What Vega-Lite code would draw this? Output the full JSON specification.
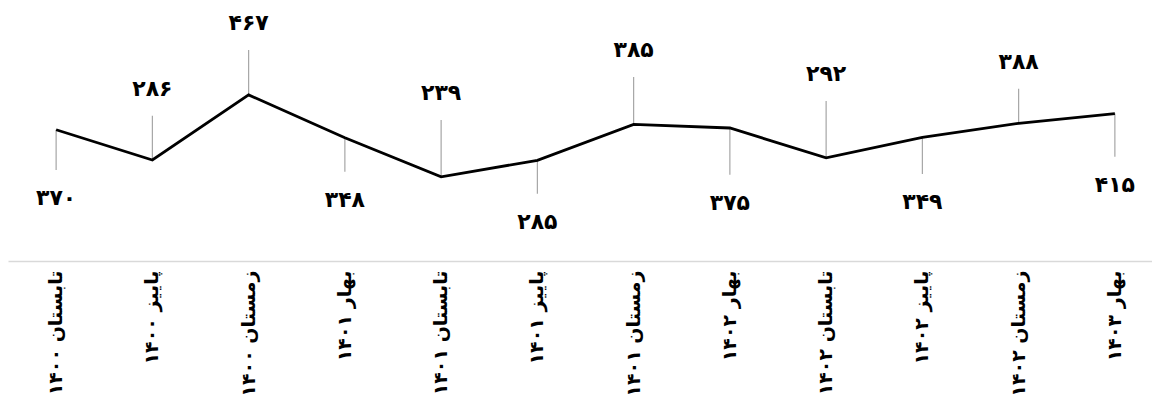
{
  "$schema": "https://vega.github.io/schema/vega-lite/v6.json",
  "width": 1155,
  "height": 261,
  "autosize": {"type": "none"},
  "padding": {"left": 8, "top": 0, "right": 0, "bottom": 137},
  "background": "#ffffff",
  "config": {"view": {"stroke": null}, "font": "DejaVu Sans"},
  "data": {
    "values": [
      {"period": "تابستان ۱۴۰۰", "value": 370, "ann": 258, "label": "۳۷۰"},
      {"period": "پاییز ۱۴۰۰", "value": 286, "ann": 409, "label": "۲۸۶"},
      {"period": "زمستان ۱۴۰۰", "value": 467, "ann": 592, "label": "۴۶۷"},
      {"period": "بهار ۱۴۰۱", "value": 348, "ann": 253, "label": "۳۴۸"},
      {"period": "تابستان ۱۴۰۱", "value": 239, "ann": 397, "label": "۲۳۹"},
      {"period": "پاییز ۱۴۰۱", "value": 285, "ann": 192, "label": "۲۸۵"},
      {"period": "زمستان ۱۴۰۱", "value": 385, "ann": 517, "label": "۳۸۵"},
      {"period": "بهار ۱۴۰۲", "value": 375, "ann": 245, "label": "۳۷۵"},
      {"period": "تابستان ۱۴۰۲", "value": 292, "ann": 450, "label": "۲۹۲"},
      {"period": "پاییز ۱۴۰۲", "value": 349, "ann": 247, "label": "۳۴۹"},
      {"period": "زمستان ۱۴۰۲", "value": 388, "ann": 484, "label": "۳۸۸"},
      {"period": "بهار ۱۴۰۳", "value": 415, "ann": 295, "label": "۴۱۵"}
    ]
  },
  "encoding": {
    "x": {
      "field": "period",
      "type": "ordinal",
      "sort": null,
      "scale": {"type": "band", "paddingInner": 0, "paddingOuter": 0},
      "axis": {
        "title": null,
        "labelAngle": -90,
        "ticks": false,
        "domainColor": "#d9d9d9",
        "domainWidth": 1.5,
        "labelFont": "DejaVu Sans",
        "labelFontSize": 19,
        "labelFontWeight": "bold",
        "labelColor": "#000000",
        "labelPadding": 9,
        "labelLimit": 300
      }
    }
  },
  "layer": [
    {
      "mark": {"type": "rule", "color": "#a6a6a6", "strokeWidth": 1.2},
      "encoding": {
        "y": {"field": "value", "type": "quantitative", "scale": {"domain": [5, 731], "zero": false, "nice": false}, "axis": null},
        "y2": {"field": "ann"}
      }
    },
    {
      "mark": {"type": "line", "color": "#000000", "strokeWidth": 2.8},
      "encoding": {
        "y": {"field": "value", "type": "quantitative"}
      }
    },
    {
      "transform": [{"filter": "datum.ann > datum.value"}],
      "mark": {"type": "text", "dy": -27, "fontSize": 22, "fontWeight": "bold", "color": "#000000", "baseline": "middle", "align": "center"},
      "encoding": {
        "y": {"field": "ann", "type": "quantitative"},
        "text": {"field": "label"}
      }
    },
    {
      "transform": [{"filter": "datum.ann < datum.value"}],
      "mark": {"type": "text", "dy": 28, "fontSize": 22, "fontWeight": "bold", "color": "#000000", "baseline": "middle", "align": "center"},
      "encoding": {
        "y": {"field": "ann", "type": "quantitative"},
        "text": {"field": "label"}
      }
    }
  ]
}
